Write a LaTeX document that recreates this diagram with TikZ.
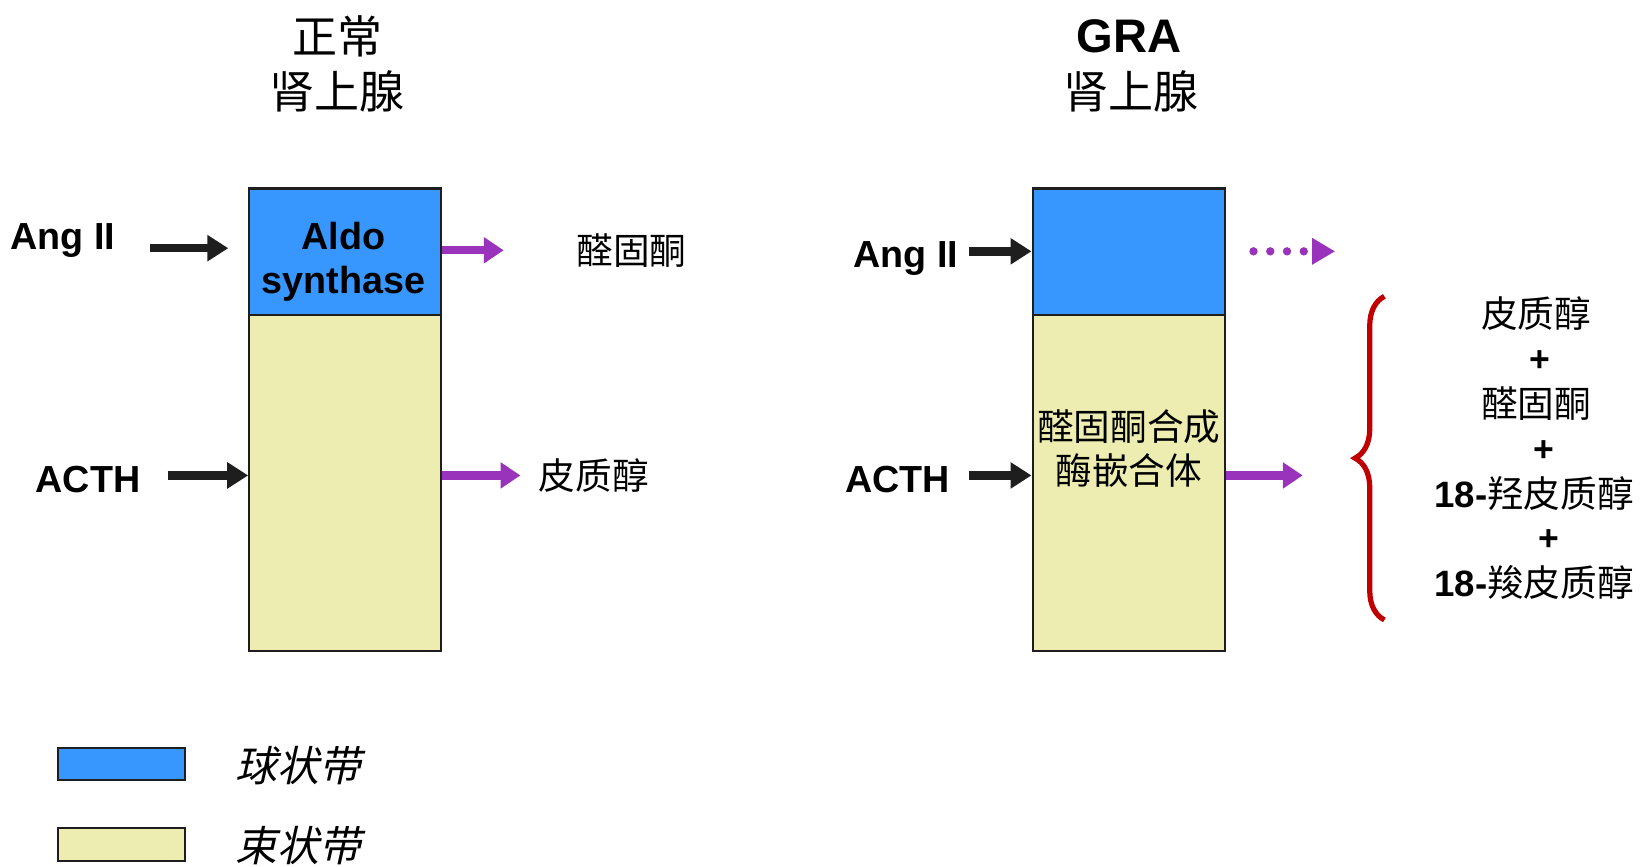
\documentclass[tikz,border=0pt]{standalone}
\usepackage{fontspec}
\setmainfont{Liberation Sans}
\newfontfamily\cjk{Noto Sans CJK SC}
\newfontfamily\cjkit[FakeSlant=0.22]{Noto Sans CJK SC}
\usetikzlibrary{arrows.meta,decorations.pathreplacing}
\definecolor{zgblue}{RGB}{55,151,255}
\definecolor{zfyellow}{RGB}{237,237,178}
\definecolor{arrpurple}{RGB}{153,51,187}
\definecolor{bracered}{RGB}{192,0,0}
\definecolor{edgegray}{RGB}{30,30,30}
\begin{document}
\begin{tikzpicture}[x=1pt,y=-1pt,
  zone/.style={draw=edgegray,line width=2pt,anchor=north west,inner sep=0pt,minimum width=183pt},
  latin/.style={inner sep=0pt,anchor=base,font=\bfseries\fontsize{36}{36}\selectfont},
  cjktxt/.style={inner sep=0pt,anchor=base,font=\cjk\fontsize{35}{35}\selectfont},
  titletxt/.style={inner sep=0pt,anchor=base,font=\cjk\fontsize{43}{43}\selectfont},
  legtxt/.style={inner sep=0pt,anchor=base west,font=\cjkit\fontsize{40}{40}\selectfont},
  plustxt/.style={inner sep=0pt,anchor=base,font=\bfseries\fontsize{34}{34}\selectfont},
  blkarrow/.style={draw=edgegray,line width=8pt,-{Triangle[length=20pt,width=24pt]}},
  purparrow/.style={draw=arrpurple,color=arrpurple,line width=8pt,-{Triangle[length=19pt,width=24pt]}},
  dotarrow/.style={draw=arrpurple,color=arrpurple,line width=8pt,line cap=round,dash pattern=on 0pt off 16pt,-{Triangle[length=22pt,width=24pt]}},
  bracestyle/.style={draw=bracered,line width=5pt,decorate,decoration={brace,amplitude=28pt,aspect=0.5}}
]
\useasboundingbox (0,0) rectangle (1568,827);

% titles
\node[titletxt] (t1a) at (322,51) {正常};
\node[titletxt] (t1b) at (322,104) {肾上腺};
\node[inner sep=0pt,anchor=base,font=\bfseries\fontsize{45}{45}\selectfont] (t2a) at (1078,50) {GRA};
\node[titletxt] (t2b) at (1080,104) {肾上腺};

% left adrenal
\node[zone,fill=zfyellow,minimum height=321pt] (zf1) at (237,300) {};
\node[zone,fill=zgblue,minimum height=121pt] (zg1) at (237,179) {};
\node[latin] (aldo1) at (328,238) {Aldo};
\node[latin] (aldo2) at (328,280) {synthase};

% right adrenal
\node[zone,fill=zfyellow,minimum height=321pt,minimum width=184pt] (zf2) at (985,300) {};
\node[zone,fill=zgblue,minimum height=121pt,minimum width=184pt] (zg2) at (985,179) {};
\node[cjktxt] (chim1) at (1078,421) {醛固酮合成};
\node[cjktxt] (chim2) at (1078,463) {酶嵌合体};

% left inputs
\node[latin] (angL) at (60,238) {Ang II};
\node[latin] (acthL) at (84,470) {ACTH};
\coordinate (angLs) at (143,237);
\coordinate (angLe) at (218,237);
\draw[blkarrow] (angLs) -- (angLe);
\coordinate (acthLs) at (160,454);
\draw[blkarrow] (acthLs) -- (acthLs -| zf1.west);

% left outputs
\coordinate (aldoOut) at (481,239);
\draw[purparrow] (aldoOut -| zg1.east) -- (aldoOut);
\node[cjktxt] (aldoL) at (603,253) {醛固酮};
\coordinate (cortOut) at (497,454);
\draw[purparrow] (cortOut -| zf1.east) -- (cortOut);
\node[cjktxt] (cortL) at (567,467) {皮质醇};

% right inputs
\node[latin] (angR) at (865,255) {Ang II};
\node[latin] (acthR) at (857,470) {ACTH};
\coordinate (angRs) at (925,240);
\draw[blkarrow] (angRs) -- (angRs -| zg2.west);
\coordinate (acthRs) at (925,454);
\draw[blkarrow] (acthRs) -- (acthRs -| zf2.west);

% right outputs
\coordinate (dotS) at (1197,240);
\coordinate (dotE) at (1275,240);
\draw[dotarrow] (dotS) -- (dotE);
\coordinate (mixOut) at (1244,454);
\draw[purparrow] (mixOut -| zf2.east) -- (mixOut);

% brace
\coordinate (brB) at (1322,592);
\coordinate (brT) at (1322,283);
\draw[bracestyle] (brB) -- (brT);

% product list
\node[cjktxt] (p1) at (1467,313) {皮质醇};
\node[plustxt] (pl1) at (1470,355) {+};
\node[cjktxt] (p2) at (1467,399) {醛固酮};
\node[plustxt] (pl2) at (1474,441) {+};
\node[inner sep=0pt,anchor=base] (p3) at (1465,485) {\fontsize{35}{35}\selectfont{\bfseries 18-}{\cjk\mdseries 羟皮质醇}};
\node[plustxt] (pl3) at (1479,526) {+};
\node[inner sep=0pt,anchor=base] (p4) at (1465,570) {\fontsize{35}{35}\selectfont{\bfseries 18-}{\cjk\mdseries 羧皮质醇}};

% legend
\node[zone,fill=zgblue,minimum width=122pt,minimum height=31pt] (lg1) at (54,713) {};
\node[legtxt] (lt1) at (225,746) {球状带};
\node[zone,fill=zfyellow,minimum width=122pt,minimum height=31pt] (lg2) at (54,790) {};
\node[legtxt] (lt2) at (225,823) {束状带};
\end{tikzpicture}
\end{document}
